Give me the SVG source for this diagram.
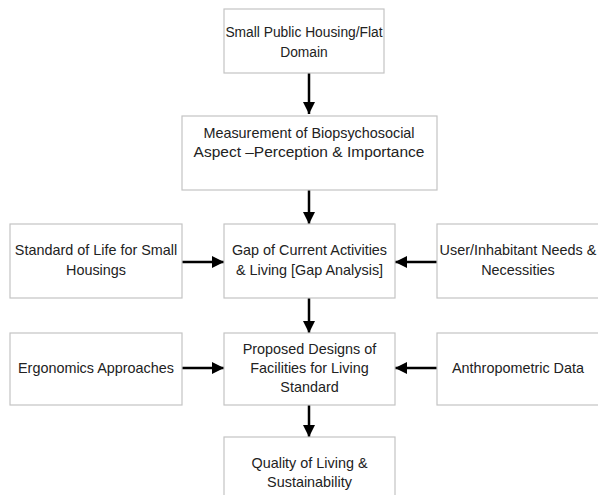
<svg xmlns="http://www.w3.org/2000/svg" width="598" height="495" viewBox="0 0 598 495">
<defs>
<style>
.box{fill:#fff;stroke:#c4c4c4;stroke-width:1.2}
.t{font-family:"Liberation Sans",Arial,sans-serif;font-size:14.4px;fill:#222;text-anchor:middle}
.c{stroke:#000;stroke-width:2.5;fill:none}
</style>
<marker id="ah" viewBox="0 0 10 10" refX="10" refY="5" markerWidth="4.8" markerHeight="4.8" markerUnits="strokeWidth" orient="auto">
<path d="M0,0 L10,5 L0,10 Z" fill="#000"/>
</marker>
</defs>
<rect width="598" height="495" fill="#fff"/>
<g id="connectors">
<line class="c" x1="309" y1="73" x2="309" y2="114" marker-end="url(#ah)"/>
<line class="c" x1="309" y1="190" x2="309" y2="224" marker-end="url(#ah)"/>
<line class="c" x1="182" y1="262" x2="224" y2="262" marker-end="url(#ah)"/>
<line class="c" x1="437" y1="262" x2="395" y2="262" marker-end="url(#ah)"/>
<line class="c" x1="309" y1="298" x2="309" y2="333" marker-end="url(#ah)"/>
<line class="c" x1="182" y1="368" x2="224" y2="368" marker-end="url(#ah)"/>
<line class="c" x1="437" y1="368" x2="395" y2="368" marker-end="url(#ah)"/>
<line class="c" x1="309" y1="405" x2="309" y2="437" marker-end="url(#ah)"/>
</g>
<g id="n1">
<rect class="box" x="224" y="9" width="160" height="64"/>
<text class="t" x="304" y="37" style="font-size:13.8px">Small Public Housing/Flat</text>
<text class="t" x="304" y="57" style="font-size:13.8px">Domain</text>
</g>
<g id="n2">
<rect class="box" x="182" y="116" width="255" height="74"/>
<text class="t" x="309" y="138">Measurement of Biopsychosocial</text>
<text class="t" x="309" y="157" style="font-size:15.5px">Aspect –Perception &amp; Importance</text>
</g>
<g id="n3">
<rect class="box" x="10" y="224" width="172" height="74"/>
<text class="t" x="96" y="255">Standard of Life for Small</text>
<text class="t" x="96" y="275">Housings</text>
</g>
<g id="n4">
<rect class="box" x="224" y="224" width="171" height="74"/>
<text class="t" x="309.5" y="255">Gap of Current Activities</text>
<text class="t" x="309.5" y="275">&amp; Living [Gap Analysis]</text>
</g>
<g id="n5">
<rect class="box" x="437" y="224" width="200" height="74"/>
<text class="t" x="518" y="255">User/Inhabitant Needs &amp;</text>
<text class="t" x="518" y="275">Necessities</text>
</g>
<g id="n6">
<rect class="box" x="10" y="333" width="172" height="72"/>
<text class="t" x="96" y="373">Ergonomics Approaches</text>
</g>
<g id="n7">
<rect class="box" x="224" y="333" width="171" height="72"/>
<text class="t" x="309.5" y="354">Proposed Designs of</text>
<text class="t" x="309.5" y="373">Facilities for Living</text>
<text class="t" x="309.5" y="392">Standard</text>
</g>
<g id="n8">
<rect class="box" x="437" y="333" width="200" height="72"/>
<text class="t" x="518" y="373">Anthropometric Data</text>
</g>
<g id="n9">
<rect class="box" x="224" y="437" width="171" height="80"/>
<text class="t" x="309.5" y="468">Quality of Living &amp;</text>
<text class="t" x="309.5" y="487">Sustainability</text>
</g>
</svg>
